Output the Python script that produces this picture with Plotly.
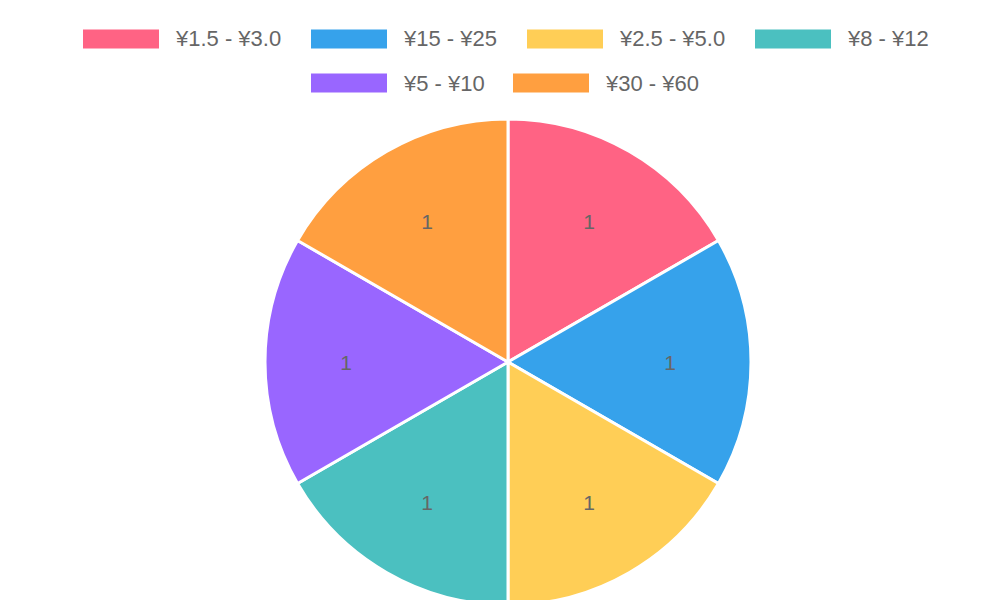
import plotly.graph_objects as go

labels = ["¥1.5 - ¥3.0", "¥15 - ¥25", "¥2.5 - ¥5.0", "¥8 - ¥12", "¥5 - ¥10", "¥30 - ¥60"]
values = [1, 1, 1, 1, 1, 1]
colors = ["#FF6384", "#36A2EB", "#FFCE56", "#4BC0C0", "#9966FF", "#FF9F40"]

W, H = 1000, 600

fig = go.Figure(go.Pie(
    labels=labels, values=values, sort=False, direction="clockwise", rotation=0,
    marker=dict(colors=colors, line=dict(color="white", width=3)),
    textinfo="value", textposition="inside", insidetextorientation="horizontal",
    textfont=dict(color="#666666", size=21, family="Liberation Sans"),
    domain=dict(x=[257 / W, 743 / W], y=[3 / H, 489 / H]),
    showlegend=False, hoverinfo="label+value",
))

# custom legend, chart.js style (wide swatches, two centered rows)
legend_pos = [(75, 31), (303, 31), (519, 31), (747, 31), (303, 75), (505, 75)]
for (lx, ly), lab, col in zip(legend_pos, labels, colors):
    fig.add_shape(type="rect", xref="paper", yref="paper",
                  x0=lx / W, x1=(lx + 76) / W, y0=1 - (ly + 9.5) / H, y1=1 - (ly - 9.5) / H,
                  fillcolor=col, line=dict(width=0))
    fig.add_annotation(xref="paper", yref="paper", x=(lx + 90) / W, y=1 - ly / H,
                       text=lab, showarrow=False, xanchor="left", yanchor="middle",
                       font=dict(color="#666666", size=22, family="Liberation Sans"))

fig.update_layout(width=W, height=H, margin=dict(l=0, r=0, t=0, b=0),
                  paper_bgcolor="white", plot_bgcolor="white")
fig.write_html("out.html")
